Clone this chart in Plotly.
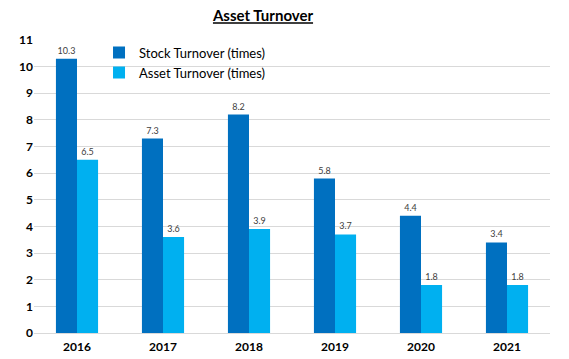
import plotly.graph_objects as go

years = ["2016", "2017", "2018", "2019", "2020", "2021"]
stock_turnover = [10.3, 7.3, 8.2, 5.8, 4.4, 3.4]
asset_turnover = [6.5, 3.6, 3.9, 3.7, 1.8, 1.8]
y_ticks = list(range(0, 12))

fig = go.Figure()
fig.add_trace(go.Bar(
    x=years, y=stock_turnover, name="Stock Turnover (times)",
    marker=dict(color="#0070C0", line=dict(width=0)),
    text=[f"{v:.1f}" for v in stock_turnover], textposition="outside",
    textfont=dict(size=9, color="#404040"), cliponaxis=False,
))
fig.add_trace(go.Bar(
    x=years, y=asset_turnover, name="Asset Turnover (times)",
    marker=dict(color="#00B0F0", line=dict(width=0)),
    text=[f"{v:.1f}" for v in asset_turnover], textposition="outside",
    textfont=dict(size=9, color="#404040"), cliponaxis=False,
))

fig.update_layout(
    width=569, height=359,
    margin=dict(l=34, r=19, t=40, b=26),
    paper_bgcolor="white", plot_bgcolor="white",
    font=dict(family="Lato, Open Sans, sans-serif", color="black"),
    title=dict(text="<b><u>Asset Turnover</u></b>", x=263/569, xanchor="center",
               y=1 - 16/359, yanchor="middle", font=dict(size=15, color="black")),
    barmode="group", bargap=0.51, bargroupgap=0,
    showlegend=True,
    legend=dict(x=0.126, y=1.008, xanchor="left", yanchor="top",
                font=dict(size=13, color="black"), bgcolor="rgba(0,0,0,0)",
                itemwidth=30, tracegroupgap=0),
    xaxis=dict(showgrid=False, showline=False, ticks="", ticklabelstandoff=5,
               automargin=False,
               tickfont=dict(size=12, color="black", weight="bold")),
    yaxis=dict(range=[0, 11], tickvals=y_ticks, showgrid=True, gridcolor="#D9D9D9",
               gridwidth=1, zeroline=True, zerolinecolor="#D9D9D9", zerolinewidth=1,
               automargin=False,
               tickfont=dict(size=12, color="black", weight="bold"), ticks=""),
)

fig.write_html("out.html", config={"displayModeBar": False},
               post_script="document.body.style.margin='0';")
